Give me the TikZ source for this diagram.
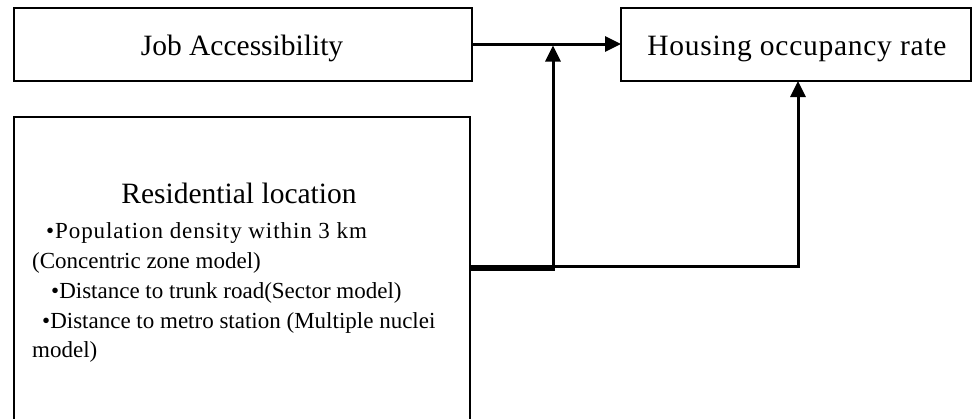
\documentclass[tikz,border=0pt]{standalone}
\usepackage{fontspec}
\setmainfont{Liberation Serif}
\usetikzlibrary{arrows.meta}
\begin{document}
\begin{tikzpicture}[x=1pt,y=-1pt,
  box/.style={draw=black,line width=2pt,inner sep=0pt,outer sep=0pt},
  bigtext/.style={font=\fontsize{29.5}{34}\selectfont,anchor=base,inner sep=0pt},
  smalltext/.style={font=\fontsize{23}{28}\selectfont,inner sep=0pt,anchor=base west},
  conn/.style={line width=3pt,-{Triangle[length=16pt,width=15pt]}}]
\useasboundingbox (0,0) rectangle (972,418);
\clip (0,0) rectangle (972,418);
\fill[white] (0,0) rectangle (972,418);
% boxes
\node[box,minimum width=458pt,minimum height=73pt] (job) at (243,44.5) {};
\node[bigtext] (jobt) at (242,55) {Job Accessibility};
\node[box,minimum width=350pt,minimum height=73pt] (house) at (796,44.5) {};
\node[bigtext] (houset) at (797,55) {\addfontfeatures{LetterSpace=2.5}Housing occupancy rate};
\node[box,minimum width=456pt,minimum height=323pt] (res) at (242,278.5) {};
% texts in the residential box
\node[bigtext] (rt) at (239,203) {Residential location};
\node[smalltext] (l1) at (46,238) {\addfontfeatures{LetterSpace=4}•Population density within 3 km};
\node[smalltext] (l2) at (32,268) {(Concentric zone model)};
\node[smalltext] (l3) at (51,298) {•Distance to trunk road(Sector model)};
\node[smalltext] (l4) at (42,328) {•Distance to metro station (Multiple nuclei};
\node[smalltext] (l5) at (32,357) {model)};
% connectors
\coordinate (o1) at (res.east |- 0,269);
\coordinate (o2) at (res.east |- 0,266.5);
\coordinate (j1) at (553,44);
\draw[conn] (job.east |- 0,44) -- (house.west |- 0,44);
\draw[conn] (o1) -| ([yshift=-1.5pt]j1);
\draw[conn] (o2) -| (house.south -| 798,0);
\end{tikzpicture}
\end{document}
